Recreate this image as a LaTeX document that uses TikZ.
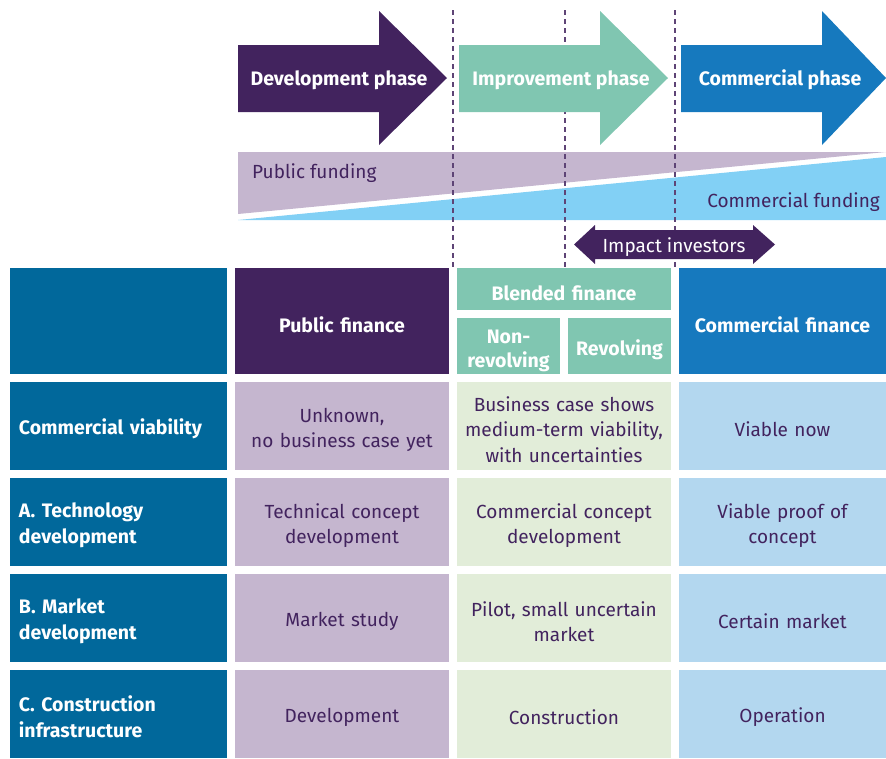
\documentclass[tikz,border=0pt]{standalone}
\usepackage{fontspec}
\setmainfont{Fira Sans}
\definecolor{dpurple}{HTML}{42235E}
\definecolor{teal}{HTML}{80C6B1}
\definecolor{cblue}{HTML}{1679BE}
\definecolor{govblue}{HTML}{01689B}
\definecolor{lpurple}{HTML}{C5B6CF}
\definecolor{lgreen}{HTML}{E2EDD9}
\definecolor{lblue}{HTML}{B3D7EF}
\definecolor{wedgeblue}{HTML}{82D0F5}
\begin{document}
\begin{tikzpicture}[x=1pt,y=-1pt,
  phasetext/.style={text=white,font=\fontsize{19.5}{22}\selectfont\bfseries,inner sep=0pt},
  fundtext/.style={text=dpurple,font=\fontsize{19}{22}\selectfont,inner sep=0pt},
  cell/.style={rectangle,draw=none,inner sep=0pt,align=center,text width=200pt,font=\fontsize{19}{25.5}\selectfont,
    execute at begin node={\rule{0pt}{22pt}}},
  bodycell/.style={cell,text=dpurple},
  headcell/.style={cell,text=white,font=\fontsize{19.5}{24}\selectfont\bfseries,execute at begin node={\rule{0pt}{24pt}}},
  narrow/.style={text width=100pt},
  leftcell/.style={cell,fill=govblue,text=white,align=left,text width=199pt,minimum width=217pt,font=\fontsize{19.5}{26}\selectfont\bfseries},
  divline/.style={dpurple!85,line width=1.2pt,dash pattern=on 5pt off 4pt}
]
\useasboundingbox (0,0) rectangle (886,758);
% funding wedges
\fill[lpurple] (238,152) -- (886,152) -- (238,214) -- cycle;
\fill[wedgeblue] (238,220) -- (886,157) -- (886,220) -- cycle;
\node[fundtext,anchor=west] (pubf) at (252,173) {Public funding};
\node[fundtext,anchor=east] (comf) at (880,202) {Commercial funding};
% dashed dividers
\coordinate (d1t) at (453,10); \coordinate (d1b) at (453,268);
\coordinate (d2t) at (565,10); \coordinate (d2b) at (565,268);
\coordinate (d3t) at (675,10); \coordinate (d3b) at (675,268);
\draw[divline] (d1t) -- (d1b);
\draw[divline] (d2t) -- (d2b);
\draw[divline] (d3t) -- (d3b);
% phase arrows
\fill[dpurple] (238,45) -- (379,45) -- (379,11) -- (447,78) -- (379,145) -- (379,112) -- (238,112) -- cycle;
\fill[teal] (459,45) -- (600,45) -- (600,11) -- (668,78) -- (600,145) -- (600,112) -- (459,112) -- cycle;
\fill[cblue] (681,45) -- (822,45) -- (822,11) -- (886,78) -- (822,145) -- (822,112) -- (681,112) -- cycle;
\node[phasetext] (devp) at (339,80) {Development phase};
\node[phasetext] (impp) at (561,80) {Improvement phase};
\node[phasetext] (comp) at (780,80) {Commercial phase};
% impact investors double arrow
\fill[dpurple] (574,244.5) -- (595,225) -- (595,230) -- (753,230) -- (753,225) -- (775,244.5) -- (753,264) -- (753,259) -- (595,259) -- (595,264) -- cycle;
\node[text=white,font=\fontsize{19}{22}\selectfont,inner sep=0pt] (impact) at (674,247) {Impact investors};
% header row
\node[leftcell,minimum height=106pt] (h0) at (118.5,321) {};
\node[headcell,fill=dpurple,minimum width=214pt,minimum height=106pt] (h1) at (342,321) {Public finance};
\node[headcell,fill=teal,minimum width=214pt,minimum height=42pt] (blend) at (564,289) {Blended finance};
\node[headcell,narrow,fill=teal,minimum width=103pt,minimum height=56pt] (nonrev) at (508.5,346) {Non-\\revolving};
\node[headcell,narrow,fill=teal,minimum width=103pt,minimum height=56pt] (rev) at (619.5,346) {Revolving};
\node[headcell,fill=cblue,minimum width=207pt,minimum height=106pt] (h3) at (782.5,321) {Commercial finance};
% row 1
\node[leftcell,minimum height=88pt] (r1c0) at (118.5,426) {Commercial viability};
\node[bodycell,fill=lpurple,minimum width=214pt,minimum height=88pt] (r1c1) at (342,426) {Unknown,\\no business case yet};
\node[bodycell,fill=lgreen,minimum width=214pt,minimum height=88pt] (r1c2) at (564,426) {Business case shows\\medium-term viability,\\with uncertainties};
\node[bodycell,fill=lblue,minimum width=207pt,minimum height=88pt] (r1c3) at (782.5,426) {Viable now};
% row 2
\node[leftcell,minimum height=88pt] (r2c0) at (118.5,522) {A. Technology\\development};
\node[bodycell,fill=lpurple,minimum width=214pt,minimum height=88pt] (r2c1) at (342,522) {Technical concept\\development};
\node[bodycell,fill=lgreen,minimum width=214pt,minimum height=88pt] (r2c2) at (564,522) {Commercial concept\\development};
\node[bodycell,fill=lblue,minimum width=207pt,minimum height=88pt] (r2c3) at (782.5,522) {Viable proof of\\concept};
% row 3
\node[leftcell,minimum height=88pt] (r3c0) at (118.5,618) {B. Market\\development};
\node[bodycell,fill=lpurple,minimum width=214pt,minimum height=88pt] (r3c1) at (342,618) {Market study};
\node[bodycell,fill=lgreen,minimum width=214pt,minimum height=88pt] (r3c2) at (564,618) {Pilot, small uncertain\\market};
\node[bodycell,fill=lblue,minimum width=207pt,minimum height=88pt] (r3c3) at (782.5,618) {Certain market};
% row 4
\node[leftcell,minimum height=88pt] (r4c0) at (118.5,714) {C. Construction\\infrastructure};
\node[bodycell,fill=lpurple,minimum width=214pt,minimum height=88pt] (r4c1) at (342,714) {Development};
\node[bodycell,fill=lgreen,minimum width=214pt,minimum height=88pt] (r4c2) at (564,714) {Construction};
\node[bodycell,fill=lblue,minimum width=207pt,minimum height=88pt] (r4c3) at (782.5,714) {Operation};
\end{tikzpicture}
\end{document}
